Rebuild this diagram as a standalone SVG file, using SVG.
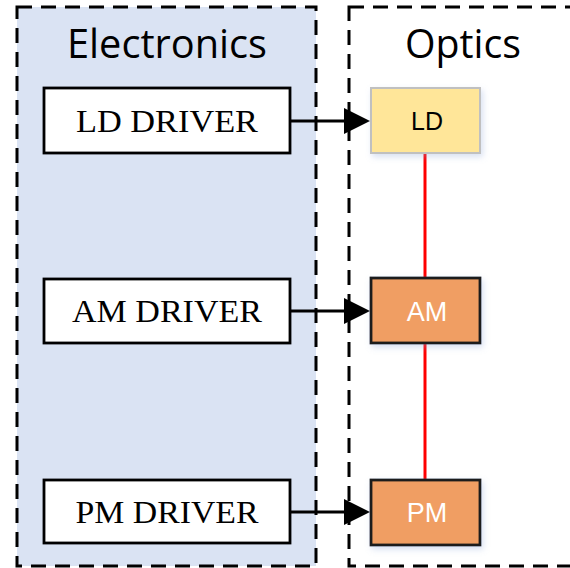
<svg xmlns="http://www.w3.org/2000/svg" width="570" height="568" viewBox="0 0 570 568">
<style>
.group{stroke:#000;stroke-width:3;stroke-dasharray:15 9}
.drv{fill:#fff;stroke:#000;stroke-width:2.8}
.drvt{font-family:"Liberation Serif",serif;font-size:32px;fill:#000;text-anchor:middle}
.title{font-family:"Open Sans","Liberation Sans",sans-serif;font-size:40px;fill:#000;text-anchor:middle}
.opt{font-family:"Liberation Sans",sans-serif;text-anchor:middle}
.conn{stroke:#000;stroke-width:3;fill:none}
.red{stroke:#ff0000;stroke-width:3;fill:none}
</style>
<defs>
<filter id="sh" x="-20%" y="-20%" width="140%" height="140%">
<feGaussianBlur in="SourceAlpha" stdDeviation="3"/>
<feOffset dx="2" dy="3" result="b"/>
<feFlood flood-color="#8fa8d8" flood-opacity="0.35"/>
<feComposite in2="b" operator="in"/>
<feMerge><feMergeNode/><feMergeNode in="SourceGraphic"/></feMerge>
</filter>
</defs>
<g id="electronics">
<rect x="17" y="7" width="299" height="559" fill="#dae3f3" class="group"/>
<text x="167" y="58" class="title" textLength="200" lengthAdjust="spacingAndGlyphs">Electronics</text>
</g>
<g id="optics">
<rect x="349" y="7" width="240" height="559" fill="none" class="group"/>
<text x="463" y="58" class="title" textLength="116" lengthAdjust="spacingAndGlyphs">Optics</text>
</g>
<g id="connectors">
<path class="conn" d="M290,121 H344" />
<path d="M344,108 L370,121 L344,134 Z" fill="#000"/>
<path class="conn" d="M290,311 H344" />
<path d="M344,298 L370,311 L344,324 Z" fill="#000"/>
<path class="conn" d="M290,512 H344" />
<path d="M344,499 L370,512 L344,525 Z" fill="#000"/>
<path class="red" d="M425,153 V278"/>
<path class="red" d="M425,343 V480"/>
</g>
<g id="ld-driver">
<rect x="44" y="88" width="246" height="65" class="drv"/>
<text x="167" y="132" class="drvt" textLength="182" lengthAdjust="spacingAndGlyphs">LD DRIVER</text>
</g>
<g id="am-driver">
<rect x="44" y="279" width="246" height="64" class="drv"/>
<text x="167" y="322" class="drvt" textLength="190" lengthAdjust="spacingAndGlyphs">AM DRIVER</text>
</g>
<g id="pm-driver">
<rect x="44" y="480" width="246" height="63" class="drv"/>
<text x="167" y="523" class="drvt" textLength="183" lengthAdjust="spacingAndGlyphs">PM DRIVER</text>
</g>
<g id="ld">
<rect x="371" y="88" width="109" height="65" fill="#ffe699" stroke="#c0c0c0" stroke-width="2" filter="url(#sh)"/>
<text x="427" y="130" class="opt" font-size="25" fill="#000">LD</text>
</g>
<g id="am">
<rect x="371" y="278" width="109" height="65" fill="#f09e63" stroke="#1a1a1a" stroke-width="2.8" filter="url(#sh)"/>
<text x="427" y="321" class="opt" font-size="27" fill="#fff">AM</text>
</g>
<g id="pm">
<rect x="371" y="480" width="109" height="65" fill="#f09e63" stroke="#1a1a1a" stroke-width="2.8" filter="url(#sh)"/>
<text x="427" y="522" class="opt" font-size="27" fill="#fff">PM</text>
</g>
</svg>
